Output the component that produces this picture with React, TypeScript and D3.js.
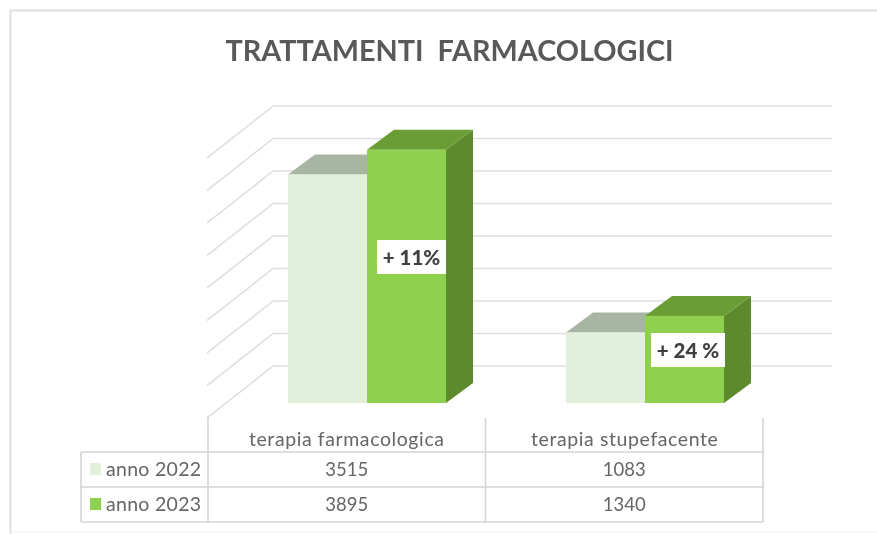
import React from "react";
import * as d3 from "d3";

const categories = ["terapia farmacologica", "terapia stupefacente"];
const seriesNames = ["anno 2022", "anno 2023"];
const values2022 = [3515, 1083];
const values2023 = [3895, 1340];
const gridTicks = [0, 500, 1000, 1500, 2000, 2500, 3000, 3500, 4000];
const changeLabels = ["+ 11%", "+ 24 %"];
const title = "TRATTAMENTI  FARMACOLOGICI";

const W = 877, H = 534;
const FONT = "Lato, 'Open Sans', sans-serif";
const DX = 27, DY = 20;
const FLOOR_DX = 66, FLOOR_DY = 52;
const frontBase = 403;
const gridColor = "#e0e0e0";
const tableColor = "#d4d4d4";
const textColor = "#666666";
const palette = [
  { front: "#e2efda", top: "#a9b5a3", side: "#c0cdb8" },
  { front: "#8fd14f", top: "#6b9d35", side: "#5e8a2e" },
];

const heightScale = d3.scaleLinear().domain([0, 4000]).range([0, 260]);
const backY = d3.scaleLinear().domain([0, 4000]).range([366, 106]);
const catX = d3.scaleBand<number>().domain([0, 1]).range([208, 763]).padding(0);
const rowLines = [452, 487, 522];

export default function App() {
  const series = [values2022, values2023];
  const barW = 79;
  const barLeft = (c: number) => [288, 566][c];
  return (
    <svg width={W} height={H} viewBox={`0 0 ${W} ${H}`}
      style={{ position: "fixed", left: 0, top: 0, background: "#fff", filter: "blur(0.6px)" }}
      fontFamily={FONT}>
      <path d={`M10.5,${H} V10.5 H${W}`} fill="none" stroke="#dedede" strokeWidth={2} />
      <line x1={10} x2={W} y1={532} y2={532} stroke="#f0f0f0" strokeWidth={1} />
      <text x={449.5} y={61} textAnchor="middle" fontSize={28.8} fontWeight={700} fill="#595959" style={{ whiteSpace: "pre" }}>{title}</text>

      {gridTicks.map((t) => {
        const y = backY(t);
        return (
          <path key={t} d={`M${273 - FLOOR_DX},${y + FLOOR_DY} L273,${y} H832`}
            fill="none" stroke={gridColor} strokeWidth={1.6} />
        );
      })}

      {categories.map((_, c) =>
        series.map((vals, s) => {
          const x0 = barLeft(c) + s * barW;
          const x1 = x0 + barW;
          const h = heightScale(vals[c]);
          const y = frontBase - h;
          const p = palette[s];
          return (
            <g key={`${c}-${s}`}>
              <polygon points={`${x1},${y} ${x1 + DX},${y - DY} ${x1 + DX},${frontBase - DY} ${x1},${frontBase}`} fill={p.side} />
              <polygon points={`${x0},${y} ${x1},${y} ${x1 + DX},${y - DY} ${x0 + DX},${y - DY}`} fill={p.top} />
              <rect x={x0} y={y} width={barW} height={h} fill={p.front} />
            </g>
          );
        })
      )}

      {changeLabels.map((lab, c) => {
        const box = c === 0 ? { x: 377, y: 240, w: 69, h: 34 } : { x: 651, y: 333, w: 74, h: 34 };
        return (
          <g key={lab}>
            <rect x={box.x} y={box.y} width={box.w} height={box.h} fill="#fff" />
            <text x={box.x + box.w / 2} y={box.y + 25} textAnchor="middle" fontSize={20.5} fontWeight={900} fill="#404040">{lab}</text>
          </g>
        );
      })}

      <g stroke={tableColor} strokeWidth={1.6} fill="none">
        <line x1={81} x2={763} y1={rowLines[0]} y2={rowLines[0]} />
        <line x1={81} x2={763} y1={rowLines[1]} y2={rowLines[1]} />
        <line x1={81} x2={763} y1={rowLines[2]} y2={rowLines[2]} />
        <line x1={81} x2={81} y1={rowLines[0]} y2={rowLines[2]} />
        <line x1={208} x2={208} y1={418} y2={rowLines[2]} />
        <line x1={catX(1)!} x2={catX(1)!} y1={418} y2={rowLines[2]} />
        <line x1={763} x2={763} y1={418} y2={rowLines[2]} />
      </g>

      {categories.map((cat, c) => (
        <text key={cat} x={catX(c)! + catX.bandwidth() / 2 + (c === 0 ? 0 : 0.5)} y={446} textAnchor="middle" fontSize={19.5} letterSpacing={0.6} fill={textColor}>{cat}</text>
      ))}
      {seriesNames.map((name, s) => {
        const rowY = rowLines[s];
        return (
          <g key={name}>
            <rect x={90} y={rowY + 11} width={11} height={12} fill={palette[s].front} />
            <text x={106} y={rowY + 24} fontSize={19.5} letterSpacing={0.3} fill={textColor}>{name}</text>
            {series[s].map((v, c) => (
              <text key={c} x={catX(c)! + catX.bandwidth() / 2} y={rowY + 24} textAnchor="middle" fontSize={18.5} fill={textColor}>{v}</text>
            ))}
          </g>
        );
      })}
    </svg>
  );
}
